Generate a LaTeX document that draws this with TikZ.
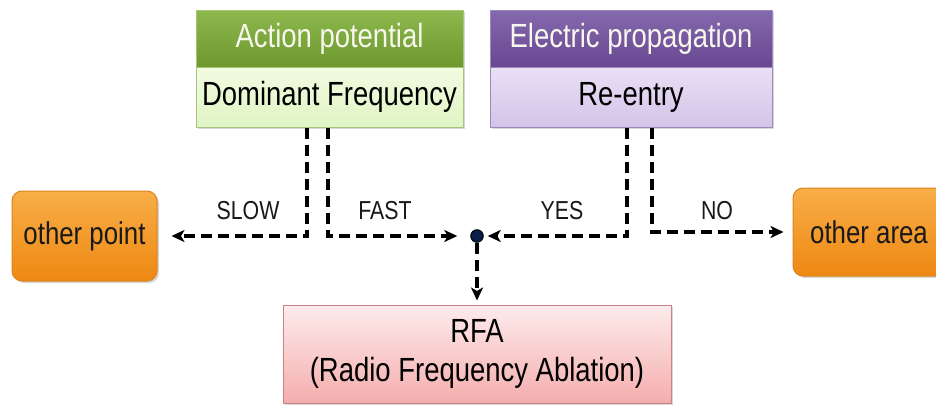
\documentclass[tikz,border=0pt]{standalone}
\usepackage{fontspec}
\setmainfont{Liberation Sans}
\newfontfamily\condf[FakeStretch=0.82]{Liberation Sans}
\usetikzlibrary{shadows,arrows.meta}
\definecolor{ghTop}{HTML}{8DB84E}
\definecolor{ghBot}{HTML}{6C982E}
\definecolor{glTop}{HTML}{F2FCE2}
\definecolor{glBot}{HTML}{E0F4C4}
\definecolor{gBord}{HTML}{A8C47C}
\definecolor{phTop}{HTML}{8569AE}
\definecolor{phBot}{HTML}{684790}
\definecolor{plTop}{HTML}{EAE1F5}
\definecolor{plBot}{HTML}{D3C3E9}
\definecolor{pBord}{HTML}{9C88BC}
\definecolor{oTop}{HTML}{F8AE48}
\definecolor{oBot}{HTML}{EE8812}
\definecolor{oBord}{HTML}{D9861E}
\definecolor{rTop}{HTML}{FDECEC}
\definecolor{rBot}{HTML}{F5ADAD}
\definecolor{rBord}{HTML}{C98383}
\definecolor{headtext}{HTML}{F7F7EE}
\definecolor{dotfill}{HTML}{0B1E4A}
\begin{document}
\begin{tikzpicture}[x=1pt,y=-1pt,
  box/.style={rectangle,inner sep=0pt,font=\condf\fontsize{33.5}{36}\selectfont,
     drop shadow={opacity=0.3,shadow xshift=2pt,shadow yshift=-2pt}},
  ghead/.style={box,draw=gBord,line width=1pt,top color=ghTop,bottom color=ghBot,text=headtext},
  glow/.style={box,draw=gBord,line width=1pt,top color=glTop,bottom color=glBot,text=black},
  phead/.style={box,draw=pBord,line width=1pt,top color=phTop,bottom color=phBot,text=headtext},
  plow/.style={box,draw=pBord,line width=1pt,top color=plTop,bottom color=plBot,text=black},
  obox/.style={box,draw=oBord,line width=1pt,rounded corners=10pt,top color=oTop,bottom color=oBot,text=black!90,
     font=\condf\fontsize{31.5}{34}\selectfont},
  rbox/.style={box,draw=rBord,line width=1pt,top color=rTop,bottom color=rBot,text=black,align=center,
     font=\condf\fontsize{33.5}{39}\selectfont},
  conn/.style={line width=3.6pt,dash pattern=on 11pt off 6pt,
     -{Stealth[length=13pt,width=12pt,inset=3.5pt]}},
  lab/.style={font=\condf\fontsize{26}{28}\selectfont,text=black!90,inner sep=0pt}
]
\clip (0,0) rectangle (936,407);
\fill[white] (0,0) rectangle (936,407);

\node[ghead,minimum width=267pt,minimum height=57pt] (gh) at (329.5,38.5) {Action potential};
\node[glow,minimum width=267pt,minimum height=60pt] (gl) at (329.5,97) {Dominant Frequency};
\node[phead,minimum width=282pt,minimum height=57pt] (ph) at (631,38.5) {Electric propagation};
\node[plow,minimum width=282pt,minimum height=60pt] (pl) at (631,97) {Re-entry};

\node[obox,minimum width=145pt,minimum height=90pt] (op) at (84.5,236) {other point};
\node[obox,minimum width=152pt,minimum height=88pt] (oa) at (869,232) {other area};

\node[rbox,minimum width=388pt,minimum height=98pt] (rfa) at (477,354) {RFA\\(Radio Frequency Ablation)};

\node[circle,draw=black,line width=1pt,fill=dotfill,minimum size=12.5pt,inner sep=0pt] (dot) at (477,236) {};

\draw[conn,shorten >=14pt] ([xshift=-22.5pt]gl.south) |- (op.east);
\draw[conn,shorten >=13pt] ([xshift=-1.5pt]gl.south) |- (dot.west);
\draw[conn,shorten >=4pt] ([xshift=-4pt]pl.south) |- (dot.east);
\draw[conn,shorten >=9pt] ([xshift=21pt]pl.south) |- (oa.west);
\draw[conn,shorten >=4pt] (dot.south) -- (rfa.north);

\node[lab] (slow) at (248,211) {SLOW};
\node[lab] (fast) at (385,211) {FAST};
\node[lab] (yes) at (562,211) {YES};
\node[lab] (no) at (717,211) {NO};
\end{tikzpicture}
\end{document}
